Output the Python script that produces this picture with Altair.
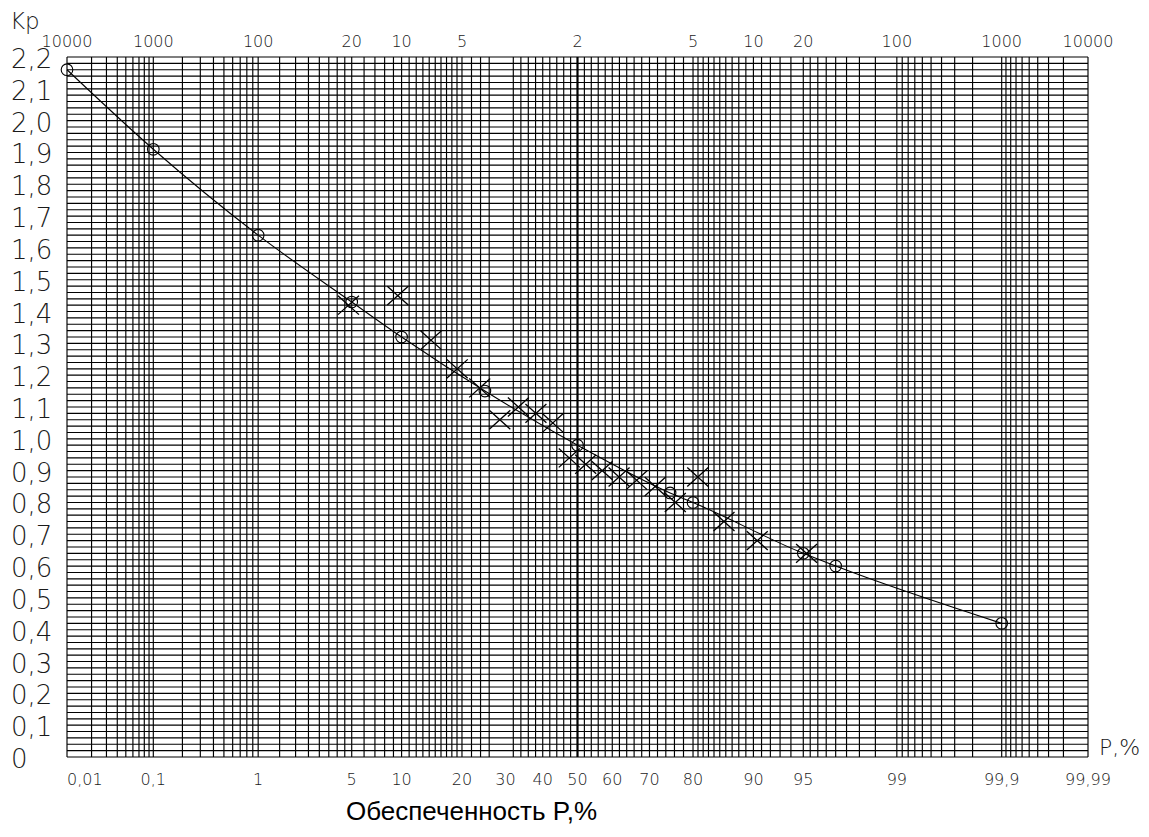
import altair as alt
import pandas as pd
from statistics import NormalDist

_nd = NormalDist()


def zq(p):
    return _nd.inv_cdf(p / 100.0)


# ---- probability-paper grid (percent) ----
grid_p = [
    0.01, 0.02, 0.03, 0.04, 0.05, 0.06, 0.07, 0.08, 0.09,
    0.1, 0.2, 0.3, 0.4, 0.5, 0.6, 0.7, 0.8, 0.9,
    1, 1.5, 2, 2.5, 3, 3.5, 4, 4.5,
    5, 6, 7, 8, 9, 10, 11, 12, 13, 14, 15, 16, 17, 18, 19,
    20, 22, 24, 26, 32, 34, 36, 38, 40, 42, 44, 46, 48,
    52, 54, 56, 58, 60, 62, 64, 66, 68, 70, 72, 74, 76, 78, 80,
    81, 82, 83, 84, 85, 86, 87, 88, 89, 90, 91, 92, 93, 94,
    95, 95.5, 96, 96.5, 97, 97.5, 98, 98.5,
    99, 99.1, 99.2, 99.3, 99.4, 99.5, 99.6, 99.7, 99.8,
    99.9, 99.91, 99.92, 99.93, 99.94, 99.95, 99.96, 99.97, 99.98, 99.99,
]
center_p = [50]
hgrid_k = [round(i * 0.02, 2) for i in range(111)]

# ---- axis texts ----
bottom_p = [0.1, 1, 5, 10, 20, 30, 40, 50, 60, 70, 80, 90, 95, 99, 99.9, 99.99]
bottom_txt = ["0,1", "1", "5", "10", "20", "30", "40", "50", "60", "70", "80",
              "90", "95", "99", "99,9", "99,99"]
first_p = [0.01]
first_txt = ["0,01"]
top_p = [0.01, 0.1, 1, 5, 10, 20, 50, 80, 90, 95, 99, 99.9, 99.99]
top_txt = ["10000", "1000", "100", "20", "10", "5", "2", "5", "10", "20",
           "100", "1000", "10000"]
y_vals = [round(i * 0.1, 1) for i in range(23)]
y_txt = ["0"] + [f"{v:.1f}".replace(".", ",") for v in y_vals[1:]]

# ---- data: analytical curve (circles) ----
curve_p = [0.01, 0.1, 1, 5, 10, 25, 50, 75, 80, 95, 97, 99.9]
curve_k = [2.16, 1.91, 1.64, 1.43, 1.32, 1.15, 0.98, 0.83, 0.80, 0.64, 0.60, 0.42]

# ---- data: empirical points (crosses) ----
emp_p = [4.76, 9.52, 14.29, 19.05, 23.81, 28.57, 33.33, 38.10, 42.86, 47.62,
         52.38, 57.14, 61.90, 66.67, 71.43, 76.19, 80.95, 85.71, 90.48, 95.24]
emp_k = [1.42, 1.45, 1.31, 1.22, 1.16, 1.06, 1.10, 1.08, 1.05, 0.94,
         0.92, 0.90, 0.88, 0.87, 0.85, 0.80, 0.88, 0.74, 0.68, 0.64]

W, H = 1021, 700
xs = alt.Scale(domain=[zq(0.01), zq(99.99)], nice=False, zero=False)
ys = alt.Scale(domain=[0, 2.2], nice=False, zero=False)
X = alt.X("z:Q", scale=xs, axis=None)
Y = alt.Y("k:Q", scale=ys, axis=None)

LABEL_FONT = "DejaVu Sans"
LABEL_COLOR = "#1a1a1a"
GRID_W = 1.15

vgrid = alt.Chart(pd.DataFrame({"z": [zq(p) for p in grid_p]})).mark_rule(
    color="black", strokeWidth=GRID_W
).encode(x=X, y=alt.value(0), y2=alt.value(H))

vcenter = alt.Chart(pd.DataFrame({"z": [zq(p) for p in center_p]})).mark_rule(
    color="black", strokeWidth=2.2
).encode(x=X, y=alt.value(0), y2=alt.value(H))

hgrid = alt.Chart(pd.DataFrame({"k": hgrid_k})).mark_rule(
    color="black", strokeWidth=GRID_W
).encode(y=Y, x=alt.value(0), x2=alt.value(W))

curve_df = pd.DataFrame({"z": [zq(p) for p in curve_p], "k": curve_k})
line = alt.Chart(curve_df).mark_line(
    color="black", strokeWidth=1.1, interpolate="monotone"
).encode(x=X, y=Y)
circles = alt.Chart(curve_df).mark_point(
    shape="circle", filled=False, size=135, color="black", strokeWidth=1.1, opacity=1
).encode(x=X, y=Y)

emp_df = pd.DataFrame({"z": [zq(p) for p in emp_p], "k": emp_k})
crosses = alt.Chart(emp_df).mark_point(
    shape="M-1,-0.9L1,0.9M-1,0.9L1,-0.9", filled=False, size=441,
    color="black", strokeWidth=1.3, opacity=1
).encode(x=X, y=Y)

ylab = alt.Chart(pd.DataFrame({"k": y_vals, "t": y_txt})).mark_text(
    align="left", baseline="middle", fontSize=26, font=LABEL_FONT,
    fontWeight=200, color=LABEL_COLOR, dy=3
).encode(y=Y, x=alt.value(-56), text="t:N")

blab = alt.Chart(pd.DataFrame({"z": [zq(p) for p in bottom_p], "t": bottom_txt})).mark_text(
    align="center", baseline="middle", fontSize=16, font=LABEL_FONT,
    fontWeight=200, color=LABEL_COLOR
).encode(x=X, y=alt.value(H + 23), text="t:N")

blab0 = alt.Chart(pd.DataFrame({"z": [zq(p) for p in first_p], "t": first_txt})).mark_text(
    align="left", baseline="middle", fontSize=16, font=LABEL_FONT,
    fontWeight=200, color=LABEL_COLOR
).encode(x=X, y=alt.value(H + 23), text="t:N")

tlab = alt.Chart(pd.DataFrame({"z": [zq(p) for p in top_p], "t": top_txt})).mark_text(
    align="center", baseline="middle", fontSize=16, font=LABEL_FONT,
    fontWeight=200, color=LABEL_COLOR
).encode(x=X, y=alt.value(-15.5), text="t:N")

one = alt.Data(values=[{}])
kp = alt.Chart(one).mark_text(
    align="left", baseline="middle", fontSize=23, font=LABEL_FONT,
    fontWeight=200, color=LABEL_COLOR, text="Kp"
).encode(x=alt.value(-57), y=alt.value(-35))

pp = alt.Chart(one).mark_text(
    align="left", baseline="middle", fontSize=22, font=LABEL_FONT,
    fontWeight=200, color=LABEL_COLOR, text="P,%"
).encode(x=alt.value(1032), y=alt.value(H - 9))

title = alt.Chart(one).mark_text(
    align="center", baseline="middle", fontSize=26, font="Liberation Sans",
    color="black", text="Обеспеченность P,%"
).encode(x=alt.value(404.5), y=alt.value(H + 55))

chart = alt.layer(
    hgrid, vgrid, vcenter, line, circles, crosses,
    ylab, blab, blab0, tlab, kp, pp, title
).properties(
    width=W, height=H,
    autosize=alt.AutoSizeParams(type="none"),
    padding={"left": 59, "top": 49, "right": 52, "bottom": 72},
    background="white",
).configure_view(stroke=None)

chart.save("out.html", embed_options={"renderer": "svg", "actions": False})
